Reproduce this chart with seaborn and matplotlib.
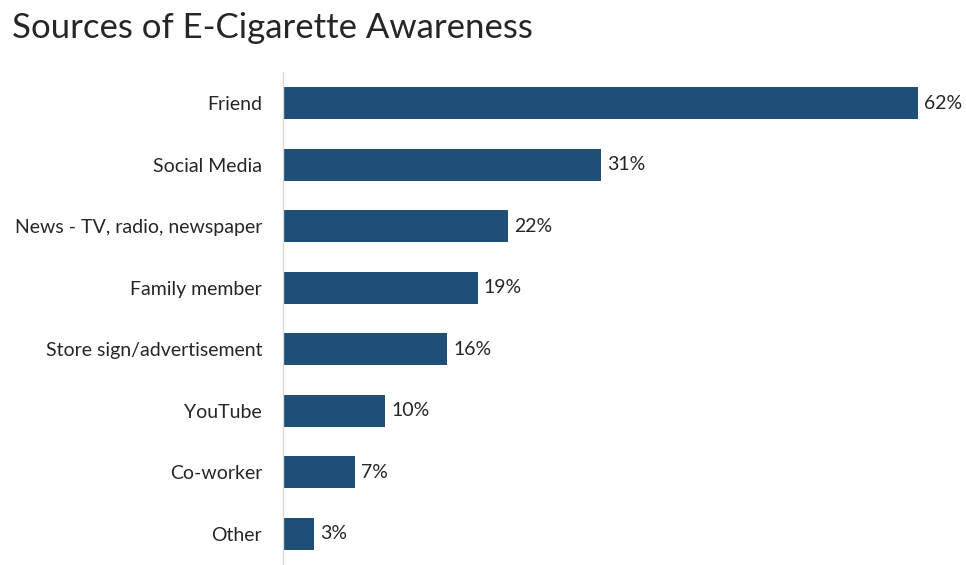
import matplotlib
matplotlib.use('Agg')
import matplotlib.pyplot as plt
import seaborn as sns
import pandas as pd

# Data
sources = ['Friend', 'Social Media', 'News - TV, radio, newspaper', 'Family member',
           'Store sign/advertisement', 'YouTube', 'Co-worker', 'Other']
percent = [62, 31, 22, 19, 16, 10, 7, 3]

df = pd.DataFrame({'source': sources, 'percent': percent})

sns.set_theme(style='white')
plt.rcParams['font.family'] = ['Lato', 'DejaVu Sans']

W, H = 966, 565
fig = plt.figure(figsize=(W / 100, H / 100), dpi=100)
# axes box in pixels: left edge at the axis line, top under the title
left, top, right, bottom = 283, 72, 966, 565
ax = fig.add_axes([left / W, 1 - bottom / H, (right - left) / W, (bottom - top) / H])

bar_color = '#1F4E79'
sns.barplot(data=df, x='percent', y='source', color=bar_color, saturation=1,
            width=0.52, ax=ax, edgecolor='none')

ax.set_xlim(0, (right - left) / 10.242)
ax.set_ylim(len(sources) - 0.5 + 0.01, -0.51)

for i, v in enumerate(percent):
    ax.text(v + 0.6, i, f'{v}%', va='center', ha='left', fontsize=14, color='#262626')

ax.set_xlabel('')
ax.set_ylabel('')
ax.set_xticks([])
ax.tick_params(axis='y', length=0, pad=15, labelsize=14, labelcolor='#262626')
for side in ['top', 'right', 'bottom']:
    ax.spines[side].set_visible(False)
ax.spines['left'].set_color('#D9D9D9')
ax.spines['left'].set_linewidth(1)

fig.text(12 / W, 1 - 38 / H, 'Sources of E-Cigarette Awareness', fontsize=25,
         fontweight='normal', color='#262626', ha='left', va='baseline')

fig.savefig('out.png', dpi=100)
plt.close(fig)
